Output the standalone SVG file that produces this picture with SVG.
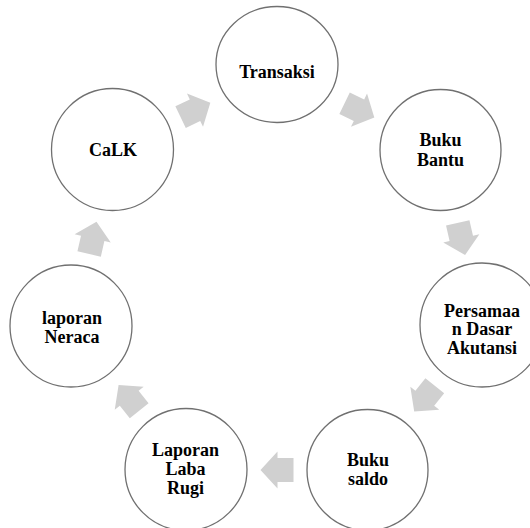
<svg xmlns="http://www.w3.org/2000/svg" width="530" height="528" viewBox="0 0 530 528">
<style>
.node{fill:#ffffff;stroke:#707070;stroke-width:1.3}
.lbl{font-family:"Liberation Serif","Times New Roman",serif;font-weight:bold;font-size:18px;fill:#000;text-anchor:middle}
.arr{fill:#d0d0d0;stroke:none}
</style>
<defs>
<path id="ar" d="M-16,-12 L0,-12 L0,-18.5 L17,0 L0,18.5 L0,12 L-16,12 Z"/>
</defs>
<rect width="530" height="528" fill="#ffffff"/>
<g id="connectors">
<use href="#ar" class="arr" transform="translate(359,110.2) rotate(25.71)"/>
<use href="#ar" class="arr" transform="translate(461.3,238.4) rotate(77.14)"/>
<use href="#ar" class="arr" transform="translate(424.8,398.3) rotate(128.57)"/>
<use href="#ar" class="arr" transform="translate(277.5,470) rotate(180)"/>
<use href="#ar" class="arr" transform="translate(129.2,398.3) rotate(231.43)"/>
<use href="#ar" class="arr" transform="translate(92.7,238.4) rotate(282.86)"/>
<use href="#ar" class="arr" transform="translate(195,110.2) rotate(334.29)"/>
</g>
<g id="transaksi">
<ellipse class="node" cx="277" cy="64.5" rx="61" ry="58"/>
<text class="lbl" x="277" y="77.5">Transaksi</text>
</g>
<g id="buku-bantu">
<circle class="node" cx="440.5" cy="150" r="60.5"/>
<text class="lbl" x="440.5" y="146">Buku</text>
<text class="lbl" x="440.5" y="165.5">Bantu</text>
</g>
<g id="persamaan">
<circle class="node" cx="482" cy="325" r="62"/>
<text class="lbl" x="482" y="316.5">Persamaa</text>
<text class="lbl" x="482" y="335">n Dasar</text>
<text class="lbl" x="482" y="353.5">Akutansi</text>
</g>
<g id="buku-saldo">
<circle class="node" cx="367.5" cy="470" r="60.5"/>
<text class="lbl" x="368" y="466">Buku</text>
<text class="lbl" x="368" y="485">saldo</text>
</g>
<g id="laba-rugi">
<circle class="node" cx="186" cy="469.5" r="61"/>
<text class="lbl" x="185.5" y="455.5">Laporan</text>
<text class="lbl" x="185.5" y="474.5">Laba</text>
<text class="lbl" x="185.5" y="493.5">Rugi</text>
</g>
<g id="neraca">
<circle class="node" cx="71" cy="326" r="61"/>
<text class="lbl" x="72" y="324">laporan</text>
<text class="lbl" x="72" y="343">Neraca</text>
</g>
<g id="calk">
<circle class="node" cx="112.5" cy="149.5" r="61"/>
<text class="lbl" x="113" y="156">CaLK</text>
</g>
</svg>
